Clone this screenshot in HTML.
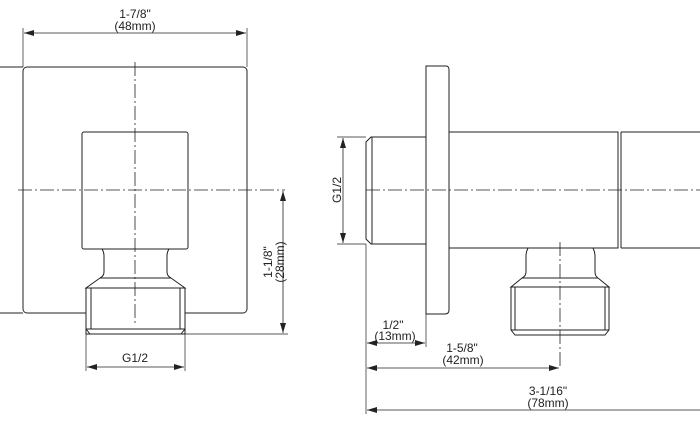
<!DOCTYPE html>
<html><head><style>
body{margin:0;background:#fff;width:700px;height:441px;overflow:hidden}
svg text{font-family:"Liberation Sans",sans-serif;font-size:12px;fill:#222}
</style></head><body>
<svg width="700" height="441" viewBox="0 0 700 441" xmlns="http://www.w3.org/2000/svg">
<defs>
<marker id="a" viewBox="0 0 10 6" refX="10" refY="3" markerWidth="10" markerHeight="6" orient="auto-start-reverse" markerUnits="userSpaceOnUse"><path d="M0,0L10,3L0,6z" fill="#222"/></marker>
</defs>
<g fill="none" stroke="#222" stroke-width="1">
<rect x="23" y="67" width="224" height="246" rx="4"/>
<path d="M0,67H23M0,313H23"/>
<rect x="82" y="132" width="106" height="117" rx="2" fill="#fff"/>
<path d="M102,249Q104,252 104,256V272Q104,276 100,278L86,288H185L171,278Q167,276 167,272V256Q167,252 169,249"/>
<path d="M100,278H171" />
<rect x="86" y="288" width="99" height="46" fill="#fff"/>
<path d="M91,288V329M180,288V329M86,329H185M86,329L90,334M185,329L181,334"/>
<g stroke-dasharray="14,3,2,3" stroke-width="0.8">
<path d="M135,62V323M18,190H285"/>
</g>
<path d="M23,28V67M247,28V67" stroke-width="0.7"/>
<path d="M24,33H246" marker-start="url(#a)" marker-end="url(#a)" stroke-width="0.8"/>
<path d="M185,334H288" stroke-width="0.7"/>
<path d="M283,191V333" marker-start="url(#a)" marker-end="url(#a)" stroke-width="0.8"/>
<path d="M86,334V371M185,334V371" stroke-width="0.7"/>
<path d="M87,367H184" marker-start="url(#a)" marker-end="url(#a)" stroke-width="0.8"/>

<path d="M426,66H446Q449,66 449,70V310Q449,314 445,314H426Z"/>
<path d="M426,137H371L366,142V239L371,244H426M372,137V244"/>
<path d="M449,132H618V248H449M621,132H700M621,248H700M618,132V248M621,132V248"/>
<path d="M528,248Q526,252 526,256V272Q526,276 522,278L511,287H609L598,278Q595,276 595,272V256Q595,252 593,248"/>
<path d="M522,278H598"/>
<path d="M511,287V330L515,335H605L609,330V287H511M515,287V330M605,287V330M511,330H609"/>
<g stroke-dasharray="14,3,2,3" stroke-width="0.8">
<path d="M366,190H700M560,242V368"/>
</g>
<path d="M337,137H366M337,244H366" stroke-width="0.7"/>
<path d="M343,138V243" marker-start="url(#a)" marker-end="url(#a)" stroke-width="0.8"/>
<path d="M366,244V414M426,314V347" stroke-width="0.7"/>
<path d="M367,343H425" marker-start="url(#a)" marker-end="url(#a)" stroke-width="0.8"/>
<path d="M367,368H559" marker-start="url(#a)" marker-end="url(#a)" stroke-width="0.8"/>
<path d="M367,410H700" marker-start="url(#a)" stroke-width="0.8"/>
</g>
<text x="135" y="18" text-anchor="middle">1-7/8"</text>
<text x="135" y="30" text-anchor="middle">(48mm)</text>
<text x="135" y="362" text-anchor="middle">G1/2</text>
<text transform="translate(272,262) rotate(-90)" text-anchor="middle">1-1/8"</text>
<text transform="translate(284,262) rotate(-90)" text-anchor="middle">(28mm)</text>
<text transform="translate(341,190) rotate(-90)" text-anchor="middle">G1/2</text>
<text x="393" y="329" text-anchor="middle">1/2"</text>
<text x="395" y="340" text-anchor="middle">(13mm)</text>
<text x="462" y="352" text-anchor="middle">1-5/8"</text>
<text x="463" y="364" text-anchor="middle">(42mm)</text>
<text x="548" y="395" text-anchor="middle">3-1/16"</text>
<text x="548" y="407" text-anchor="middle">(78mm)</text>
</svg>
</body></html>
